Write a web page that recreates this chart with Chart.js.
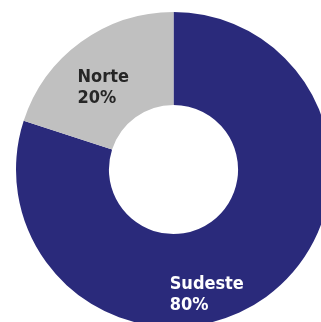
<!DOCTYPE html>
<html>
<head>
<meta charset="utf-8">
<title>Sudeste x Norte</title>
<script src="https://cdn.jsdelivr.net/npm/chart.js"></script>
<style>
html, body {
    margin:0;
    background:#ffffff;
    overflow:hidden;
    width:321px;
    height:322px;
}
#chart {
    position:absolute;
    left:0;
    top:0;
}
</style>
</head>
<body>

<canvas id="chart" width="347" height="339"></canvas>

<script>
// ---------------- DATA ----------------
const regions = ["Sudeste", "Norte"];
const shares = [80, 20];

// ---------------- STYLE ----------------
const sliceColors = ["#2a2a7b", "#c0c0c0"];
const labelColors = ["#ffffff", "#262626"];
// shift of each label block from its slice centroid (px)
const labelShift = [[-32, 33], [-5, 6]];

// ---------------- LABEL PLUGIN ----------------
const sliceLabels = {
    id:"sliceLabels",
    afterDatasetsDraw(chart){
        const ctx = chart.ctx;
        const meta = chart.getDatasetMeta(0);
        ctx.save();
        ctx.font = "bold 18px 'DejaVu Sans Condensed', 'DejaVu Sans'";
        ctx.textAlign = "left";
        ctx.textBaseline = "alphabetic";
        meta.data.forEach((arc, i)=>{
            const p = arc.tooltipPosition();
            const cx = p.x + labelShift[i][0];
            const cy = p.y + labelShift[i][1];
            const lines = [regions[i], shares[i] + "%"];
            const w = Math.max(...lines.map(t => ctx.measureText(t).width));
            const left = cx - w/2;
            ctx.fillStyle = labelColors[i];
            ctx.fillText(lines[0], left, cy - 3.5);
            ctx.fillText(lines[1], left, cy + 17.5);
        });
        ctx.restore();
    }
};

// ---------------- CHART ----------------
new Chart(document.getElementById("chart"), {
    type:"doughnut",
    data:{
        labels:regions,
        datasets:[{
            data:shares,
            backgroundColor:sliceColors,
            borderWidth:0
        }]
    },
    options:{
        responsive:false,
        animation:false,
        cutout:"41%",
        layout:{ padding:12 },
        plugins:{
            legend:{ display:false },
            tooltip:{ enabled:false }
        }
    },
    plugins:[sliceLabels]
});
</script>

</body>
</html>
